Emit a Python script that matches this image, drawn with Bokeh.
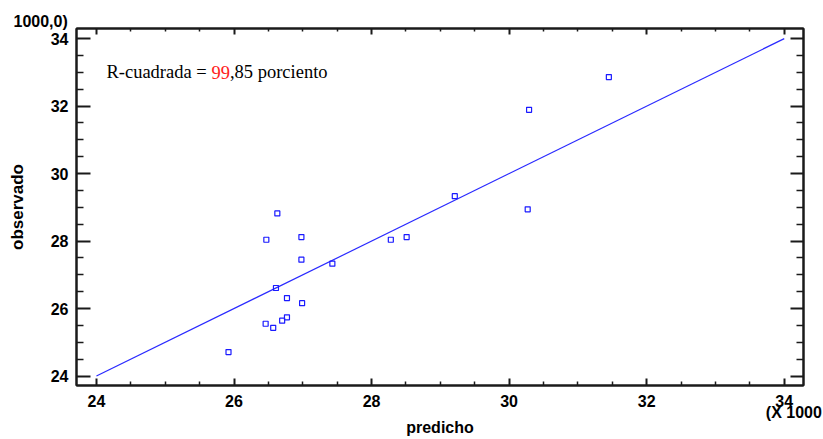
from bokeh.plotting import figure
from bokeh.models import Range1d, LinearAxis, FixedTicker, Label, ColumnDataSource
from bokeh.embed import file_html
from bokeh.resources import INLINE

# data (in thousands)
predicho = [26.63, 26.47, 26.98, 26.98, 27.43, 26.61, 26.77, 26.99, 26.46, 26.57,
            26.70, 26.77, 25.92, 28.28, 28.51, 29.21, 30.29, 30.27, 31.45]
observado = [28.82, 28.04, 28.12, 27.45, 27.33, 26.61, 26.31, 26.16, 25.55, 25.43,
             25.64, 25.74, 24.71, 28.04, 28.12, 29.33, 31.89, 28.94, 32.86]
fit_x = [24, 34]
fit_y = [24, 34]
major_ticks = [24, 26, 28, 30, 32, 34]
minor_ticks = [23.5, 24.5, 25, 25.5, 26.5, 27, 27.5, 28.5, 29, 29.5, 30.5, 31, 31.5,
               32.5, 33, 33.5, 34.5]
x_scale_note = "(X 1000"
y_scale_note = "1000,0)"

FONT = "Liberation Sans"
AX = "#1a1a1a"

p = figure(width=823, height=439, output_backend="svg", toolbar_location=None,
           x_range=Range1d(23.71, 34.28), y_range=Range1d(23.72, 34.30),
           min_border_left=76, min_border_right=20, min_border_top=28, min_border_bottom=54,
           background_fill_color="white", border_fill_color="white")
p.grid.visible = False
p.outline_line_color = AX
p.outline_line_width = 2

# y-axis multiplier note as the title, shifted left of the frame
p.title.text = y_scale_note
p.title.align = "left"
p.title.offset = -63
p.title.standoff = -2
p.title.text_font = FONT
p.title.text_font_style = "bold"
p.title.text_font_size = "16px"
p.title.text_color = "black"

ticker = FixedTicker(ticks=major_ticks, minor_ticks=minor_ticks)


def style(ax, major_in, minor_in, labels=True):
    ax.ticker = ticker
    ax.axis_line_color = AX
    ax.axis_line_width = 2
    ax.major_tick_line_color = AX
    ax.major_tick_line_width = 2
    ax.minor_tick_line_color = AX
    ax.minor_tick_line_width = 1.5
    ax.major_tick_in = major_in
    ax.major_tick_out = 0
    ax.minor_tick_in = minor_in
    ax.minor_tick_out = 0
    ax.major_label_text_font = FONT
    ax.major_label_text_font_style = "bold"
    ax.major_label_text_font_size = "16px"
    ax.major_label_text_color = "black"
    ax.axis_label_text_font = FONT
    ax.axis_label_text_font_style = "bold"
    ax.axis_label_text_color = "black"
    if not labels:
        ax.major_label_overrides = {t: "" for t in major_ticks}
        ax.major_label_text_font_size = "0px"
        ax.major_label_standoff = 0


xa = p.xaxis[0]
style(xa, 7, 4)
xa.major_label_standoff = 9

# second row below: x multiplier note and the axis title
note_axis = LinearAxis(ticker=FixedTicker(ticks=[34.14], minor_ticks=[]),
                       major_label_overrides={34.14: x_scale_note})
note_axis.axis_line_color = None
note_axis.major_tick_line_color = None
note_axis.minor_tick_line_color = None
note_axis.major_tick_in = 0
note_axis.major_tick_out = 0
note_axis.major_label_standoff = -6
note_axis.major_label_text_font = FONT
note_axis.major_label_text_font_style = "bold"
note_axis.major_label_text_font_size = "16px"
note_axis.major_label_text_color = "black"
note_axis.axis_label = "predicho"
note_axis.axis_label_standoff = -5
note_axis.axis_label_text_font = FONT
note_axis.axis_label_text_font_style = "bold"
note_axis.axis_label_text_font_size = "16px"
note_axis.axis_label_text_color = "black"
p.add_layout(note_axis, "below")

ya = p.yaxis[0]
style(ya, 14, 7)
ya.axis_label = "observado"
ya.axis_label_text_font_size = "17px"
ya.major_label_standoff = 8
ya.axis_label_standoff = 21

top = LinearAxis()
style(top, 6, 3, labels=False)
p.add_layout(top, "above")
right = LinearAxis()
style(right, 13, 7, labels=False)
p.add_layout(right, "right")

p.line(fit_x, fit_y, line_color="#2a2aff", line_width=1.2)
src = ColumnDataSource(dict(x=predicho, y=observado))
p.scatter("x", "y", source=src, marker="square", size=5, fill_color=None,
          line_color="#1a1aff", line_width=1.2)

# R-squared annotation
rx, ry = 24.145, 33.0
for txt, off, col in [("R-cuadrada = ", 0, "black"), ("99", 105, "#ff2020"),
                      (",85 porciento", 123.5, "black")]:
    p.add_layout(Label(x=rx, y=ry, x_offset=off, text=txt, text_font="Liberation Serif",
                       text_font_size="18.5px", text_color=col, text_baseline="alphabetic",
                       text_align="left"))

open("out.html", "w").write(file_html(p, INLINE))
